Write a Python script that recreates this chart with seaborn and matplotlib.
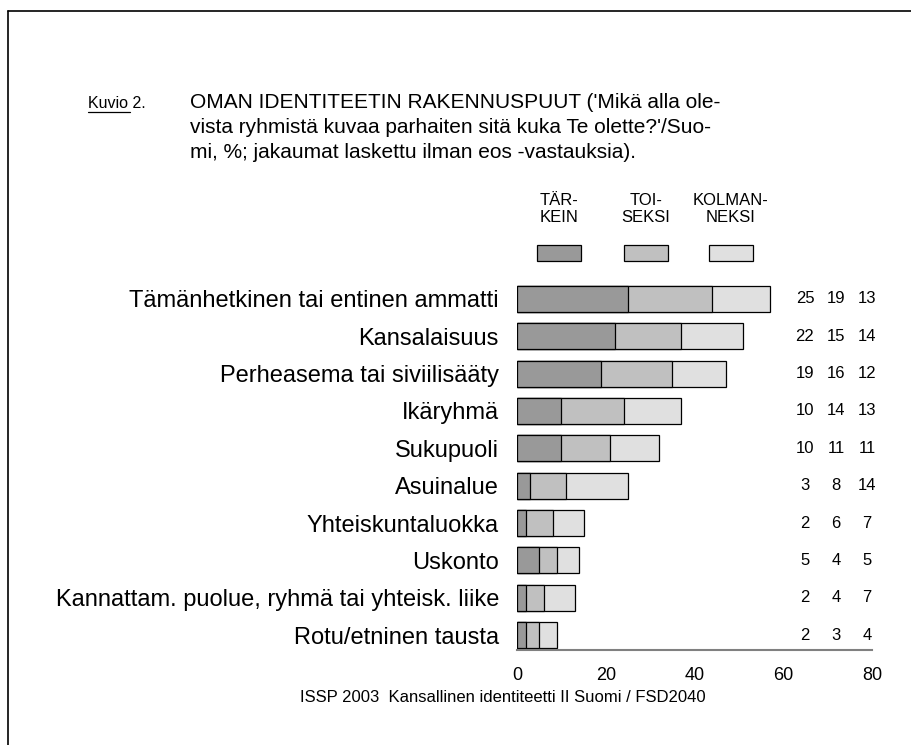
import matplotlib
matplotlib.use("Agg")
import matplotlib.pyplot as plt
import seaborn as sns
import pandas as pd
import numpy as np
from matplotlib.lines import Line2D

categories = ["Tämänhetkinen tai entinen ammatti", "Kansalaisuus", "Perheasema tai siviilisääty",
              "Ikäryhmä", "Sukupuoli", "Asuinalue", "Yhteiskuntaluokka", "Uskonto",
              "Kannattam. puolue, ryhmä tai yhteisk. liike", "Rotu/etninen tausta"]
tarkein = [25, 22, 19, 10, 10, 3, 2, 5, 2, 2]
toiseksi = [19, 15, 16, 14, 11, 8, 6, 4, 4, 3]
kolmanneksi = [13, 14, 12, 13, 11, 14, 7, 5, 7, 4]
series_labels = ["TÄR-\nKEIN", "TOI-\nSEKSI", "KOLMAN-\nNEKSI"]
xticks = [0, 20, 40, 60, 80]

colors = ["#999999", "#c0c0c0", "#e0e0e0"]

sns.set_theme(style="white")
plt.rcParams['font.family'] = ['Liberation Sans', 'DejaVu Sans']
plt.rcParams['text.color'] = 'black'

df = pd.DataFrame({"cat": categories, "a": tarkein, "b": toiseksi, "c": kolmanneksi})
df["ab"] = df["a"] + df["b"]
df["abc"] = df["ab"] + df["c"]

W, H = 912, 745
fig = plt.figure(figsize=(W / 100, H / 100), dpi=100)
ax_l, ax_r = 517 / W, 872 / W
ax_top, ax_bot = 284 / H, 650 / H
ax = fig.add_axes([ax_l, 1 - ax_bot, ax_r - ax_l, ax_bot - ax_top])

for col, c in zip(["abc", "ab", "a"], colors[::-1]):
    sns.barplot(data=df, x=col, y="cat", order=categories, color=c, width=0.7,
                edgecolor="black", linewidth=0.9, saturation=1, ax=ax)

ax.set_xlim(0, 80)
ax.set_ylim(9.4, -0.4)
ax.set_xlabel("")
ax.set_ylabel("")
ax.set_xticks(xticks)
ax.set_xticklabels([str(t) for t in xticks], fontsize=13)
for s in ["top", "right", "left"]:
    ax.spines[s].set_visible(False)
ax.spines["bottom"].set_color("#808080")
ax.spines["bottom"].set_linewidth(1.5)
ax.tick_params(axis="x", direction="out", length=6, width=1.2, color="#808080", pad=6, labelcolor="black")
ax.tick_params(axis="y", length=0, pad=13, labelsize=17, labelcolor="black")
ax.set_facecolor("none")

# value columns
colx = [64.9, 71.9, 78.9]
for i in range(len(categories)):
    for x, v in zip(colx, [tarkein[i], toiseksi[i], kolmanneksi[i]]):
        ax.text(x, i, str(v), ha="center", va="center", fontsize=12, clip_on=False)

# legend
leg_x = [559, 646, 731]
for px, lab, c in zip(leg_x, series_labels, colors):
    fig.text(px / W, 1 - 209 / H, lab, ha="center", va="center", fontsize=12,
             linespacing=1.1)
    fig.patches.append(plt.Rectangle(((px - 22) / W, 1 - 261 / H), 44 / W, 16 / H,
                                     transform=fig.transFigure, facecolor=c,
                                     edgecolor="black", linewidth=0.9))

# title
fig.text(88 / W, 1 - 103 / H, "Kuvio 2.", fontsize=11.5, va="center", ha="left")
fig.add_artist(Line2D([88 / W, 130 / W], [1 - 112 / H, 1 - 112 / H], color="black", linewidth=0.9))
title_lines = ["OMAN IDENTITEETIN RAKENNUSPUUT ('Mikä alla ole-",
               "vista ryhmistä kuvaa parhaiten sitä kuka Te olette?'/Suo-",
               "mi, %; jakaumat laskettu ilman eos -vastauksia)."]
for k, line in enumerate(title_lines):
    fig.text(190 / W, 1 - (108 + 25 * k) / H, line, fontsize=15, va="baseline", ha="left")

# footer
fig.text(503 / W, 1 - 697 / H, "ISSP 2003  Kansallinen identiteetti II Suomi / FSD2040",
         fontsize=12, ha="center", va="center")

# border lines
fig.add_artist(Line2D([8 / W, 1.0], [1 - 11 / H, 1 - 11 / H], color="black", linewidth=1.2))
fig.add_artist(Line2D([8 / W, 8 / W], [0, 1 - 11 / H], color="black", linewidth=1.2))

fig.savefig("out.png", dpi=100)
